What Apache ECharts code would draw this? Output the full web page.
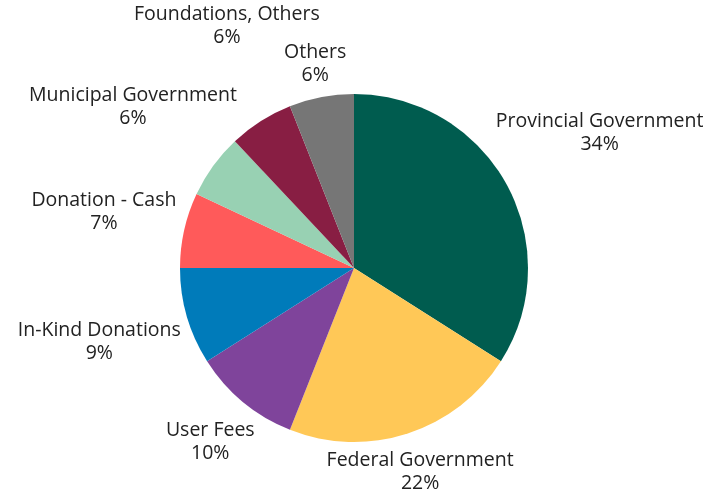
<!DOCTYPE html>
<html><head><meta charset="utf-8">
<script src="https://cdn.jsdelivr.net/npm/echarts@6/dist/echarts.min.js"></script>
<style>html,body{margin:0;padding:0;background:#fff}#c{width:728px;height:493px}</style>
</head><body><div id="c"></div>
<script>
var categories = ['Provincial Government','Federal Government','User Fees','In-Kind Donations','Donation - Cash','Municipal Government','Foundations, Others','Others'];
var values = [34,22,10,9,7,6,6,6];
var colors = ['#005C4F','#FFC857','#7F449B','#007BBA','#FF5A5A','#98D1B3','#881E43','#767676'];

var CX = 354, CY = 268, R = 174, GAP = 6.5, INSET = 4;
var FONT_SIZE = 19.5, LINE_H = 23, FONT_FAMILY = 'Open Sans';
var total = values.reduce(function(a,b){return a+b;},0);
var ctx = document.createElement('canvas').getContext('2d');
ctx.font = FONT_SIZE + 'px "' + FONT_FAMILY + '"';

function midDir(i){
  var cum = 0; for (var k=0;k<i;k++) cum += values[k];
  var a = (cum + values[i]/2)/total*2*Math.PI;
  return [Math.sin(a), -Math.cos(a)];
}
function labelWidth(i){
  return Math.max(ctx.measureText(categories[i]).width, ctx.measureText(values[i]+'%').width);
}

// Label anchors: centred on the slice's mid-angle, just outside the rim;
// overlapping labels are pushed away vertically.
var placed = {};
(function(){
  var boxes = [];
  for (var i = values.length-1; i >= 0; i--){
    var d = midDir(i), hw = labelWidth(i)/2, hh = LINE_H;
    var rr, bx = CX, by = CY;
    for (rr = 0; rr < 500; rr += 0.25){
      bx = CX + d[0]*rr; by = CY + d[1]*rr;
      var nx = Math.max(bx-hw, Math.min(CX, bx+hw));
      var ny = Math.max(by-hh, Math.min(CY, by+hh));
      if (Math.hypot(nx-CX, ny-CY) >= R + GAP) break;
    }
    var step = d[1] < 0 ? -0.5 : 0.5, guard = 0;
    while (guard++ < 400 && boxes.some(function(b){
      return bx-hw < b.x2 && bx+hw > b.x1 && by-hh+INSET < b.y2 && by+hh-INSET > b.y1;
    })) { by += step; }
    boxes.push({x1:bx-hw, x2:bx+hw, y1:by-hh+INSET, y2:by+hh-INSET});
    placed[i] = [bx, by];
  }
})();

var chart = echarts.init(document.getElementById('c'));
chart.setOption({
  animation:false,
  color: colors,
  series:[{
    type:'pie',
    center:[CX, CY],
    radius:[0, R],
    startAngle:90,
    clockwise:true,
    avoidLabelOverlap:false,
    data: categories.map(function(n,i){return {name:n, value:values[i]};}),
    label:{
      show:true, position:'outside',
      formatter: '{b}\n{c}%',
      fontFamily:FONT_FAMILY, fontSize:FONT_SIZE, lineHeight:LINE_H, color:'#222',
      width: 300, overflow:'none', align:'center'
    },
    labelLine:{show:false},
    itemStyle:{borderWidth:0},
    labelLayout: function(p){
      var pt = placed[p.dataIndex];
      return {x: pt[0], y: pt[1], align:'center', verticalAlign:'middle'};
    }
  }]
});
</script></body></html>
